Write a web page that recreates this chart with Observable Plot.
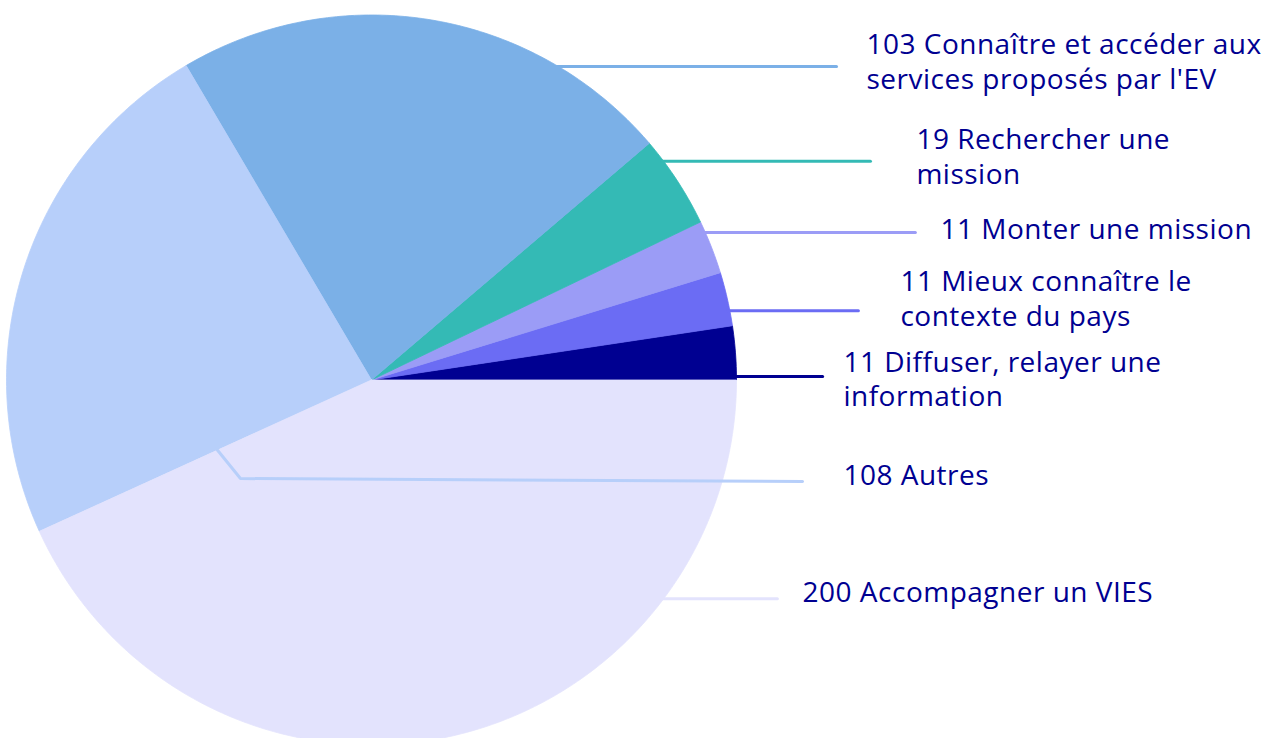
<!DOCTYPE html>
<html><head><meta charset="utf-8">
<script src="https://cdn.jsdelivr.net/npm/d3@7"></script>
<script src="https://cdn.jsdelivr.net/npm/@observablehq/plot@0.6"></script>
<style>body{margin:0;background:#fff;overflow:hidden;}</style>
</head><body><div id="chart"></div>
<script>
// ---- data ----
const categories = ["Diffuser, relayer une information", "Mieux connaître le contexte du pays", "Monter une mission", "Rechercher une mission", "Connaître et accéder aux services proposés par l'EV", "Autres", "Accompagner un VIES"];
const values = [11, 11, 11, 19, 103, 108, 200];
const labels = ["11 Diffuser, relayer une\ninformation", "11 Mieux connaître le\ncontexte du pays", "11 Monter une mission", "19 Rechercher une\nmission", "103 Connaître et accéder aux\nservices proposés par l'EV", "108 Autres", "200 Accompagner un VIES"];
const colors = ["#000091", "#6b6cf4", "#9b9cf6", "#34bab5", "#7bb0e7", "#b7cffa", "#e3e3fd"];

// ---- label layout (in pie-radius units) ----
const leaderY = [0.0096, 0.190, 0.404, 0.599, 0.859, -0.278, -0.599];
const leaderEndX = [1.236, 1.334, 1.490, 1.367, 1.274, 1.181, 1.112];
const labelX = [1.293, 1.449, 1.559, 1.493, 1.356, 1.293, 1.181];
const labelY = [0.0064, 0.226, 0.415, 0.615, 0.875, -0.259, -0.579];
// Autres leader starts inside the pie with an elbow
const elbowStart = {5: [0.465, -0.190]};
const elbowBend = {5: [-0.359, -0.270]};

// ---- geometry ----
const arcs = d3.pie().sort(null).startAngle(Math.PI / 2).endAngle(Math.PI / 2 - 2 * Math.PI)(values);
const slicePts = [];
arcs.forEach((a, i) => {
  const cat = categories[i];
  slicePts.push({cat, x: 0, y: 0});
  const n = Math.max(4, Math.ceil(Math.abs(a.endAngle - a.startAngle) * 80));
  for (let k = 0; k <= n; k++) {
    const t = a.startAngle + (a.endAngle - a.startAngle) * k / n;
    slicePts.push({cat, x: Math.sin(t), y: Math.cos(t)});
  }
  slicePts.push({cat, x: 0, y: 0});
});

const leaderPts = [];
categories.forEach((cat, i) => {
  if (elbowStart[i]) {
    const r = elbowStart[i][0];
    const t = arcs[i].endAngle + 0.01;
    leaderPts.push({cat, x: r * Math.sin(t), y: r * Math.cos(t)});
    leaderPts.push({cat, x: elbowBend[i][0], y: elbowBend[i][1]});
    leaderPts.push({cat, x: leaderEndX[i], y: leaderY[i]});
  } else {
    const y = leaderY[i];
    leaderPts.push({cat, x: Math.sqrt(1 - y * y) - 0.005, y});
    leaderPts.push({cat, x: leaderEndX[i], y});
  }
});

const labelRows = categories.map((cat, i) => ({cat, text: labels[i], x: labelX[i], y: labelY[i]}));

const cx = 371, cy = 379.5, R = 365;
const chart = Plot.plot({
  width: 1276, height: 738, margin: 0,
  x: {domain: [(0 - cx) / R, (1276 - cx) / R], axis: null},
  y: {domain: [(cy - 738) / R, cy / R], axis: null},
  color: {domain: categories, range: colors},
  style: {fontFamily: "'Open Sans', sans-serif", background: "white", overflow: "hidden"},
  marks: [
    Plot.line(slicePts, {x: "x", y: "y", z: "cat", fill: "cat", stroke: "cat", strokeWidth: 0.8, curve: "linear"}),
    Plot.line(leaderPts, {x: "x", y: "y", z: "cat", stroke: "cat", strokeWidth: 3, strokeLinejoin: "miter"}),
    Plot.text(labelRows, {x: "x", y: "y", text: "text", textAnchor: "start", lineAnchor: "middle", lineHeight: 1.22, fontSize: 28, fill: "#000091", style: "letter-spacing:0.5px"})
  ]
});
chart.querySelectorAll("text").forEach(t => t.style.letterSpacing = "0.5px");
document.getElementById("chart").appendChild(chart);
</script>
</body></html>
